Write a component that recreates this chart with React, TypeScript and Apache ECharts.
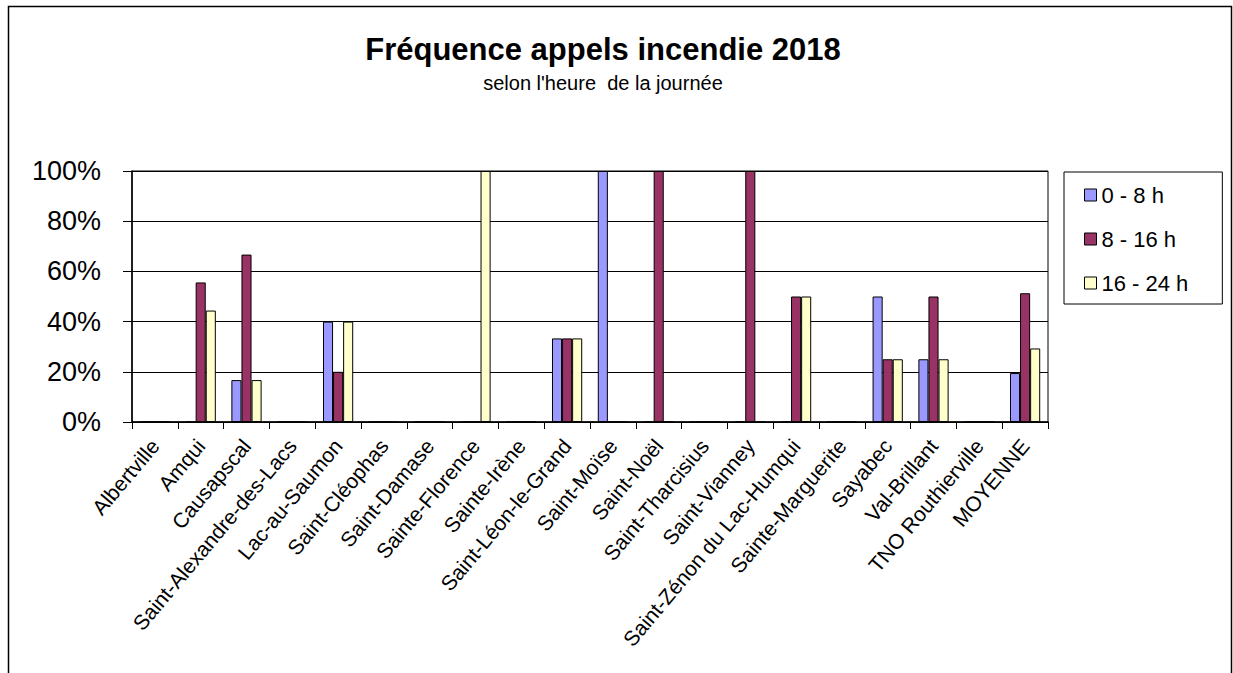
import React, { useEffect, useRef } from "react";
import * as echarts from "echarts";

const categories = [
  "Albertville",
  "Amqui",
  "Causapscal",
  "Saint-Alexandre-des-Lacs",
  "Lac-au-Saumon",
  "Saint-Cléophas",
  "Saint-Damase",
  "Sainte-Florence",
  "Sainte-Irène",
  "Saint-Léon-le-Grand",
  "Saint-Moïse",
  "Saint-Noël",
  "Saint-Tharcisius",
  "Saint-Vianney",
  "Saint-Zénon du Lac-Humqui",
  "Sainte-Marguerite",
  "Sayabec",
  "Val-Brillant",
  "TNO Routhierville",
  "MOYENNE",
];

const seriesNames = ["0 - 8 h", "8 - 16 h", "16 - 24 h"];

const night = [0, 0, 16.7, 0, 40, 0, 0, 0, 0, 33.3, 100, 0, 0, 0, 0, 0, 50, 25, 0, 19.5];
const day = [0, 55.6, 66.7, 0, 20, 0, 0, 0, 0, 33.3, 0, 100, 0, 100, 50, 0, 25, 50, 0, 51.3];
const evening = [0, 44.4, 16.7, 0, 40, 0, 0, 100, 0, 33.3, 0, 0, 0, 0, 50, 0, 25, 25, 0, 29.3];

const colors = ["#9999FF", "#993366", "#FFFFCC"];

const titleText = "Fréquence appels incendie 2018";
const subtitleText = "selon l'heure  de la journée";

const FONT = "'Liberation Sans', Arial, Helvetica, sans-serif";

export default function App() {
  const ref = useRef<HTMLDivElement>(null);

  useEffect(() => {
    if (!ref.current) return;
    const chart = echarts.init(ref.current, undefined, { renderer: "svg" });
    const values = [night, day, evening];
    chart.setOption({
      animation: false,
      backgroundColor: "#ffffff",
      textStyle: { fontFamily: FONT, color: "#000" },
      title: [
        {
          text: titleText,
          left: 603,
          top: 34,
          textAlign: "center",
          padding: 0,
          textStyle: { fontFamily: FONT, fontSize: 31, fontWeight: "bold", color: "#000" },
        },
        {
          text: subtitleText,
          left: 603,
          top: 73,
          textAlign: "center",
          padding: 0,
          textStyle: { fontFamily: FONT, fontSize: 20, fontWeight: "normal", color: "#000" },
        },
      ],
      graphic: [
        {
          type: "rect",
          shape: { x: 8.5, y: 6.5, width: 1223, height: 720 },
          style: { fill: "none", stroke: "#000", lineWidth: 1.5 },
          silent: true,
        },
      ],
      legend: {
        orient: "vertical",
        left: 1064,
        top: 172,
        data: seriesNames,
        itemWidth: 12,
        itemHeight: 12,
        itemGap: 22,
        padding: [12, 34, 10, 20],
        borderColor: "#000",
        borderWidth: 1,
        textStyle: { fontFamily: FONT, fontSize: 22, color: "#000", lineHeight: 22 },
        icon: "rect",
        itemStyle: { borderColor: "#000", borderWidth: 1 },
      },
      grid: {
        left: 132,
        right: 185,
        top: 171,
        bottom: 251,
        show: true,
        borderColor: "#000",
        borderWidth: 1,
        backgroundColor: "transparent",
        containLabel: false,
        outerBoundsMode: "none",
      },
      xAxis: {
        type: "category",
        data: categories,
        axisLine: { show: true, lineStyle: { color: "#000", width: 1.5 } },
        axisTick: { show: true, interval: 0, length: 7, lineStyle: { color: "#000" } },
        axisLabel: {
          interval: 0,
          rotate: 50,
          fontSize: 21,
          fontFamily: FONT,
          color: "#000",
          margin: 20,
        },
        splitLine: { show: false },
      },
      yAxis: {
        type: "value",
        min: 0,
        max: 100,
        interval: 20,
        axisLine: { show: true, lineStyle: { color: "#000", width: 1.5 } },
        axisTick: { show: true, length: 9, lineStyle: { color: "#000" } },
        axisLabel: {
          formatter: "{value}%",
          fontSize: 27,
          fontFamily: FONT,
          color: "#000",
          margin: 31,
        },
        splitLine: { show: true, lineStyle: { color: "#000", width: 1 } },
      },
      series: seriesNames.map((name, i) => ({
        name,
        type: "bar",
        data: values[i],
        barGap: "0%",
        barCategoryGap: "34%",
        itemStyle: { color: colors[i], borderColor: "#000", borderWidth: 1 },
      })),
    });
    return () => chart.dispose();
  }, []);

  return (
    <div
      ref={ref}
      style={{ position: "absolute", left: 0, top: 0, width: 1233, height: 673 }}
    />
  );
}
